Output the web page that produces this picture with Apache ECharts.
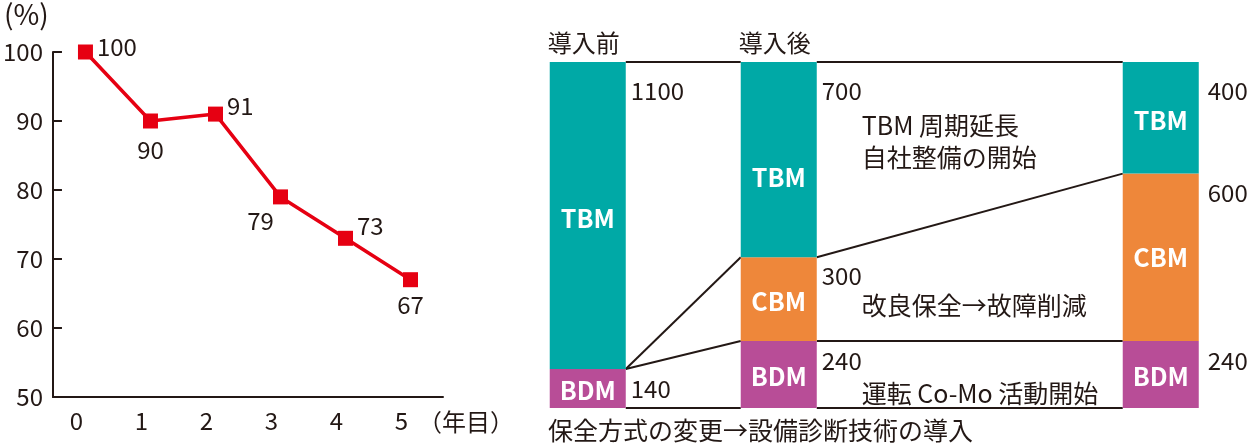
<!DOCTYPE html>
<html><head><meta charset="utf-8">
<script src="https://cdn.jsdelivr.net/npm/echarts@6/dist/echarts.min.js"></script>
<style>html,body{margin:0;padding:0;background:#fff}#c{width:1250px;height:445px}</style>
</head><body><div id="c"></div>
<script>
// ---------- data: left chart ----------
const years = ['0', '1', '2', '3', '4', '5'];
const ratio = [100, 90, 91, 79, 73, 67];
const yMin = 50, yMax = 100, yStep = 10;
const yUnit = '(%)';
const xUnit = '（年目）';

// ---------- data: right chart ----------
const stages = ['導入前', '導入後', ''];
const bdm = [140, 240, 240];
const cbm = [0, 300, 600];
const tbm = [1100, 700, 400];
const segNames = ['BDM', 'CBM', 'TBM'];
const notesBDM = ['', '運転 Co-Mo 活動開始', ''];
const notesCBM = ['', '改良保全→故障削減', ''];
const notesTBM = ['', 'TBM 周期延長\n自社整備の開始', ''];
const caption = '保全方式の変更→設備診断技術の導入';

// ---------- layout / style ----------
const FONT = "'Noto Sans CJK JP', 'Noto Sans', sans-serif";
const INK = '#231815';
const RED = '#E60012';
const segColors = ['#B84D97', '#EE873A', '#00A9A6'];
const stagePos = [0.5, 2.5, 6.5];     // slot units on hidden x axis
const half = 0.398;                    // half bar width in slot units
const valDy = [20, 19, 29];            // value label offset below segment top (BDM,CBM,TBM)
const noteDy = [16, 13, 18];           // note offset below value label
const innerDy = [[2, 2, 3], [2, 2, 18], [2, 0, 3]];
const labelCfg = [
  {position: 'right', offset: [0, -5], distance: 4},
  {position: 'bottom', distance: 9},
  {position: 'right', offset: [0, -8], distance: 4},
  {position: 'bottom', offset: [-20, -2], distance: 6},
  {position: 'right', offset: [0, -12], distance: 4},
  {position: 'bottom', distance: 6}
];

// build segments [stage, start, end, segIdx]
const segData = [];
const levels = [];
for (let i = 0; i < stages.length; i++) {
  const vals = [bdm[i], cbm[i], tbm[i]];
  let acc = 0;
  const lv = [0];
  vals.forEach((v, k) => {
    if (v > 0) segData.push([i, acc, acc + v, k]);
    acc += v;
    lv.push(acc);
  });
  levels.push(lv);
}
const linkData = [];
for (let i = 0; i < stages.length - 1; i++) {
  for (let k = 0; k < levels[i].length; k++) {
    linkData.push([i, levels[i][k], i + 1, levels[i + 1][k]]);
  }
}
const notesBySeg = [notesBDM, notesCBM, notesTBM];

const chart = echarts.init(document.getElementById('c'), null, {renderer: 'canvas'});
chart.setOption({
  animation: false,
  backgroundColor: '#fff',
  textStyle: {fontFamily: FONT},
  title: [
    {
      text: caption, left: 548, top: 418, padding: 0,
      textStyle: {fontSize: 25, fontWeight: 'normal', color: INK, fontFamily: FONT}
    },
    {
      text: yUnit, left: 4, top: 0, padding: 0,
      textStyle: {fontSize: 28, fontWeight: 'normal', color: INK, fontFamily: FONT}
    }
  ],
  grid: [
    {left: 45, top: 52, width: 398, height: 345},
    {left: 540, top: 62, width: 668.5, height: 346}
  ],
  xAxis: [
    {
      gridIndex: 0, type: 'category', data: years, boundaryGap: true,
      axisLine: {lineStyle: {color: INK, width: 2}},
      axisTick: {inside: true, length: 8, lineStyle: {color: INK, width: 2}, interval: 0},
      axisLabel: {fontSize: 24, color: INK, margin: 12, fontFamily: FONT, interval: 0, padding: [0, 18, 0, 0]},
      name: xUnit, nameLocation: 'end', nameGap: -25,
      nameTextStyle: {fontSize: 24, color: INK, fontFamily: FONT, verticalAlign: 'top', align: 'left', padding: [13, 0, 0, 0]}
    },
    {gridIndex: 1, type: 'value', min: 0, max: 7, show: false}
  ],
  yAxis: [
    {
      gridIndex: 0, type: 'value', min: yMin, max: yMax, interval: yStep,
      axisLine: {show: true, lineStyle: {color: INK, width: 2}},
      axisTick: {show: true, inside: true, length: 9, lineStyle: {color: INK, width: 2}},
      splitLine: {show: false},
      axisLabel: {fontSize: 24, color: INK, margin: 10, fontFamily: FONT}
    },
    {gridIndex: 1, type: 'value', min: 0, max: 1240, show: false}
  ],
  series: [
    {
      type: 'line', xAxisIndex: 0, yAxisIndex: 0,
      data: ratio.map((v, i) => ({value: v, label: labelCfg[i]})),
      symbol: 'rect', symbolSize: 15,
      lineStyle: {color: RED, width: 3.5},
      itemStyle: {color: RED},
      label: {show: true, fontSize: 24, color: INK, fontFamily: FONT}
    },
    {
      type: 'custom', xAxisIndex: 1, yAxisIndex: 1,
      data: linkData,
      encode: {x: [0, 2], y: [1, 3]},
      renderItem: function (params, api) {
        const a = api.coord([stagePos[api.value(0)] + half, api.value(1)]);
        const b = api.coord([stagePos[api.value(2)] - half, api.value(3)]);
        return {type: 'line', shape: {x1: a[0], y1: a[1], x2: b[0], y2: b[1]},
          style: {stroke: INK, lineWidth: 2}};
      },
      z: 1
    },
    {
      type: 'custom', xAxisIndex: 1, yAxisIndex: 1,
      data: segData,
      encode: {x: 0, y: [1, 2]},
      renderItem: function (params, api) {
        const i = api.value(0), s = api.value(1), e = api.value(2), k = api.value(3);
        const x = stagePos[i];
        const p0 = api.coord([x - half, e]);
        const p1 = api.coord([x + half, s]);
        const w = p1[0] - p0[0], h = p1[1] - p0[1];
        const children = [
          {type: 'rect', shape: {x: p0[0], y: p0[1], width: w, height: h}, style: {fill: segColors[k]}},
          {type: 'text', x: p0[0] + w / 2, y: p0[1] + h / 2 + innerDy[i][k],
            style: {text: segNames[k], fill: '#fff', font: 'bold 25px ' + FONT, align: 'center', verticalAlign: 'middle'}},
          {type: 'text', x: p1[0] + (i === stages.length - 1 ? 9 : 5), y: p0[1] + valDy[k],
            style: {text: String(e - s), fill: INK, font: '24px ' + FONT, align: 'left', verticalAlign: 'middle'}}
        ];
        const note = notesBySeg[k][i];
        if (note) {
          children.push({type: 'text', x: p1[0] + 45, y: p0[1] + valDy[k] + noteDy[k],
            style: {text: note, fill: INK, font: '25px ' + FONT, lineHeight: 32, align: 'left', verticalAlign: 'top'}});
        }
        if (k === 2 && stages[i]) {
          children.push({type: 'text', x: p0[0] - 2, y: p0[1] - 19,
            style: {text: stages[i], fill: INK, font: '24px ' + FONT, align: 'left', verticalAlign: 'middle'}});
        }
        return {type: 'group', children: children};
      },
      z: 2
    }
  ]
});
</script></body></html>
